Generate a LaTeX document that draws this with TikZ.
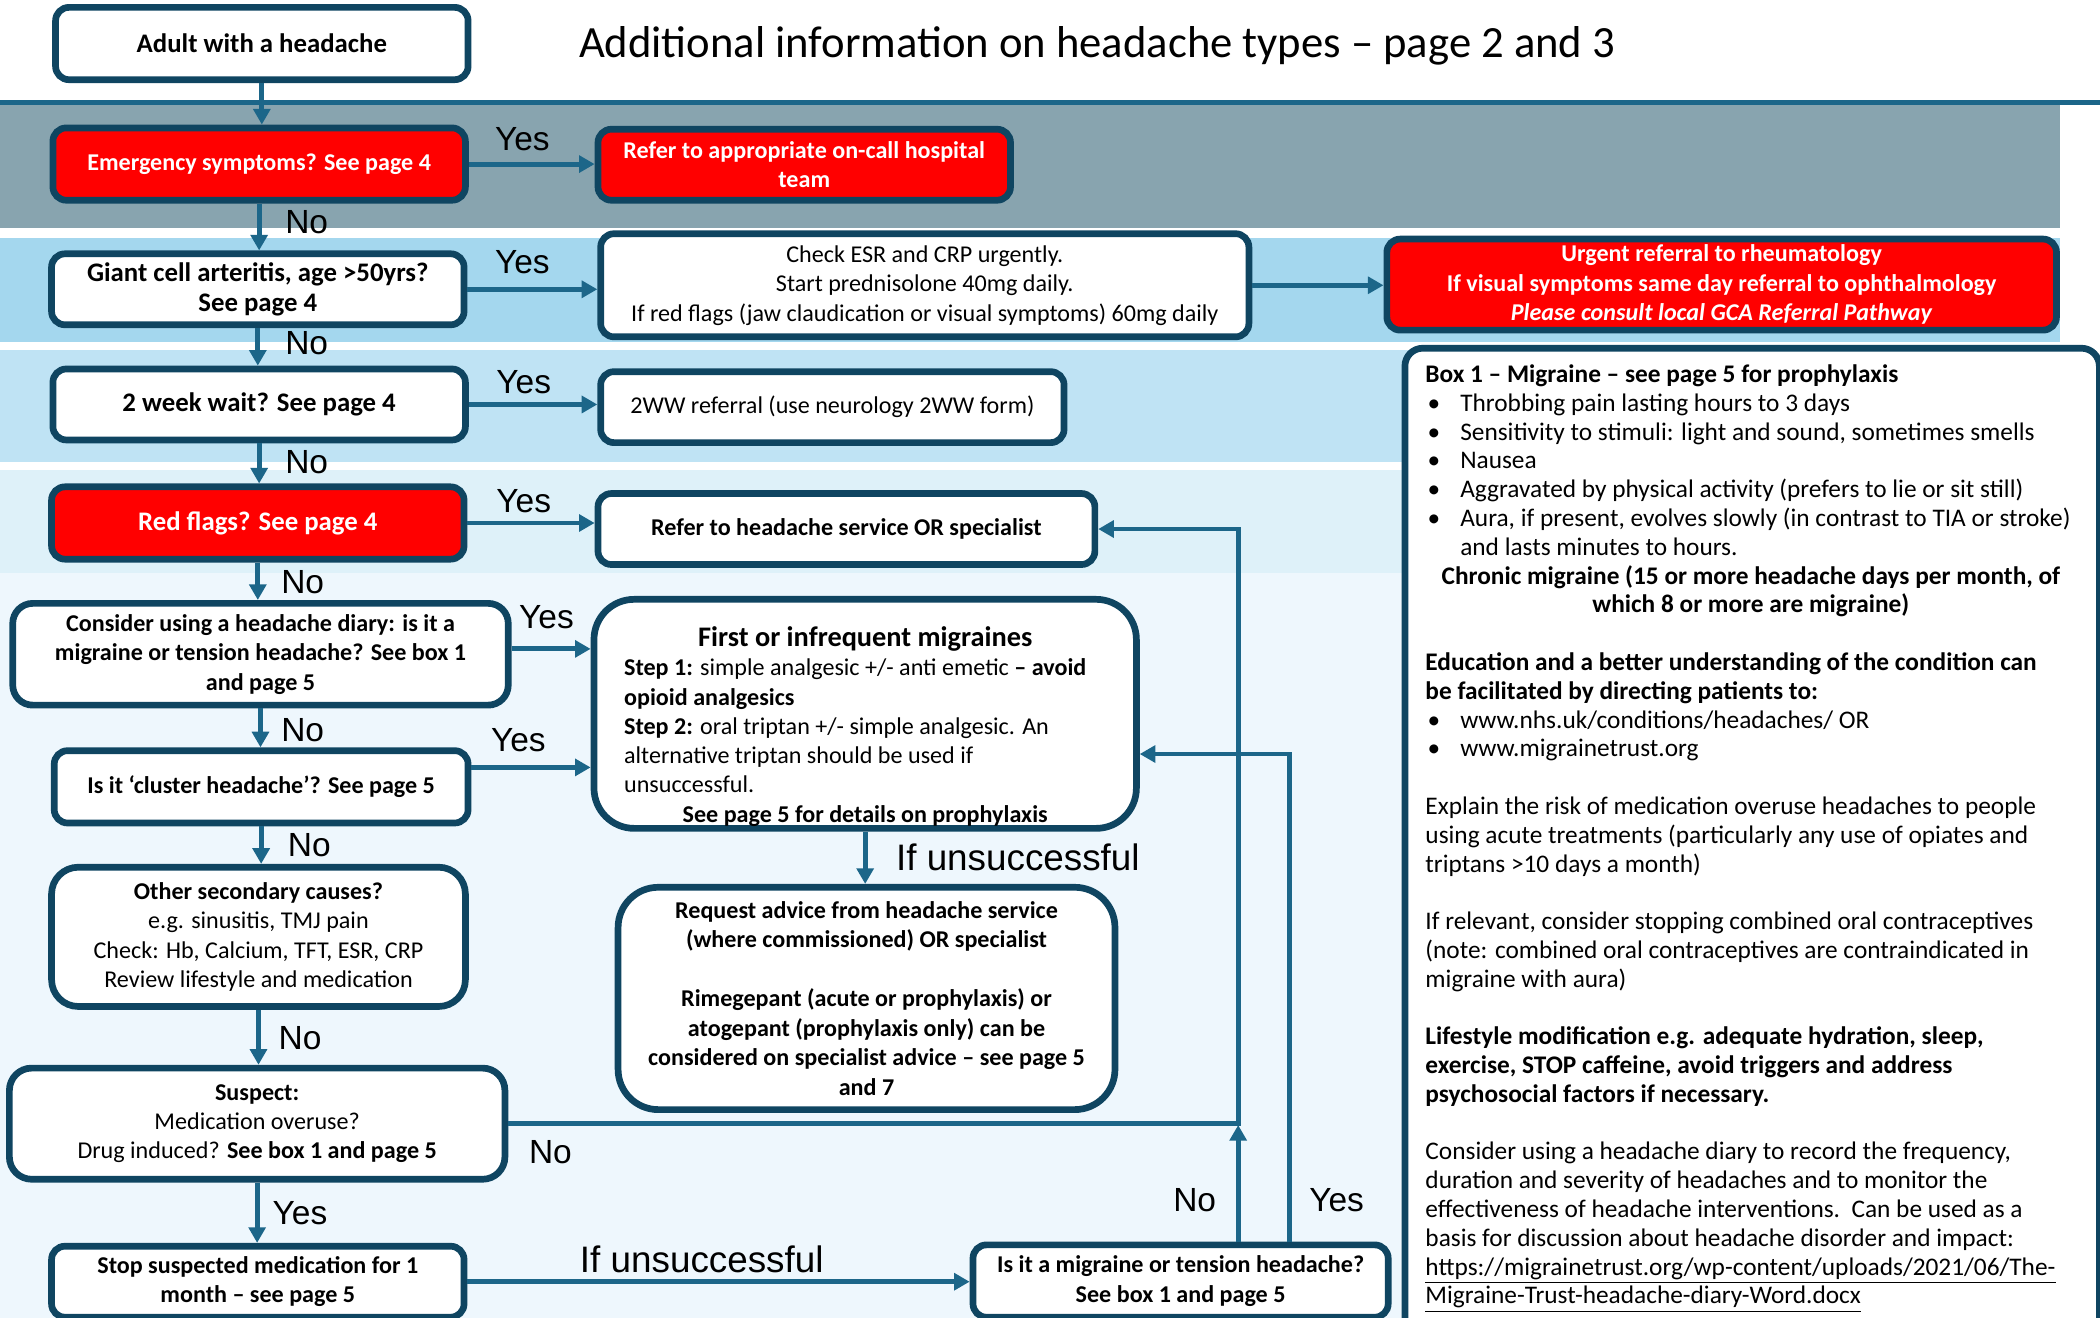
\documentclass[tikz,border=0pt]{standalone}
\usepackage{fontspec}
\setmainfont{Carlito}
\newfontfamily\lblfont{Liberation Sans}
\usetikzlibrary{arrows.meta,calc}
\definecolor{bordc}{HTML}{0F4561}
\definecolor{arrc}{HTML}{1C6689}
\definecolor{bandA}{HTML}{88A4AF}
\definecolor{bandB}{HTML}{A4D7EE}
\definecolor{bandC}{HTML}{BFE3F4}
\definecolor{bandD}{HTML}{DEF1F9}
\definecolor{bandE}{HTML}{EEF7FD}
\definecolor{redc}{HTML}{FF0000}
\newcommand\bulitem{\makebox[15.6pt][l]{\hspace{1pt}•}}
\tikzset{
  sz/.style 2 args={minimum width=#1*0.6pt, minimum height=#2*0.6pt},
  box/.style={draw=bordc, line width=3pt, fill=white, rounded corners=6pt, align=center,
    inner sep=0pt, text=black, font=\fontsize{10.8}{13.2}\selectfont},
  bbox/.style={box, font=\fontsize{10.8}{13.2}\selectfont\bfseries},
  bigb/.style={box, font=\fontsize{12}{13.8}\selectfont\bfseries},
  redbox/.style={bbox, fill=redc, text=white},
  arr/.style={draw=arrc, line width=2.2pt, -{Triangle[length=7pt,width=7.5pt]}},
  lbl/.style={inner sep=0pt, font=\lblfont\fontsize{15}{18}\selectfont},
  biglbl/.style={inner sep=0pt, font=\lblfont\fontsize{16.5}{19}\selectfont},
}
\begin{document}
\begin{tikzpicture}[x=0.6pt,y=-0.6pt]
\useasboundingbox (0,0) rectangle (1568,984);
\fill[white] (0,0) rectangle (1568,984);
% bands
\fill[bandA] (0,78) rectangle (1538,170);
\fill[bandB] (0,178) rectangle (1538,255);
\fill[bandC] (0,261) rectangle (1538,345);
\fill[bandD] (0,351) rectangle (1538,428);
\fill[bandE] (0,428) rectangle (1538,990);
\draw[arrc, line width=2.2pt] (0,76.5) -- (1568,76.5);

\node[anchor=west, inner sep=0pt, font=\fontsize{20}{24}\selectfont] (title) at (432,34)
  {Additional information on headache types – page 2 and 3};

% right panel
\node[draw=bordc, line width=3pt, fill=white, rounded corners=8pt, anchor=north west,
  minimum width=518.5*0.6pt, minimum height=760*0.6pt] (box1) at (1046.5,257.5) {};
\node[anchor=north west, inner sep=0pt, align=left, font=\fontsize{11.35}{12.9}\selectfont]
  (box1text) at (1064,272) {%
\textbf{Box 1 – Migraine – see page 5 for prophylaxis}\\
\bulitem Throbbing pain lasting hours to 3 days\\
\bulitem Sensitivity to stimuli: light and sound, sometimes smells\\
\bulitem Nausea\\
\bulitem Aggravated by physical activity (prefers to lie or sit still)\\
\bulitem Aura, if present, evolves slowly (in contrast to TIA or stroke)\\
\hspace*{15.6pt}and lasts minutes to hours.\\
\makebox[291.6pt][c]{\bfseries Chronic migraine (15 or more headache days per month, of}\\
\makebox[291.6pt][c]{\bfseries which 8 or more are migraine)}\\[12.9pt]
\textbf{Education and a better understanding of the condition can}\\
\textbf{be facilitated by directing patients to:}\\
\bulitem www.nhs.uk/conditions/headaches/ OR\\
\bulitem www.migrainetrust.org\\[12.9pt]
Explain the risk of medication overuse headaches to people\\
using acute treatments (particularly any use of opiates and\\
triptans >10 days a month)\\[12.9pt]
If relevant, consider stopping combined oral contraceptives\\
(note: combined oral contraceptives are contraindicated in\\
migraine with aura)\\[12.9pt]
\textbf{Lifestyle modification e.g. adequate hydration, sleep,}\\
\textbf{exercise, STOP caffeine, avoid triggers and address}\\
\textbf{psychosocial factors if necessary.}\\[12.9pt]
Consider using a headache diary to record the frequency,\\
duration and severity of headaches and to monitor the\\
effectiveness of headache interventions.\ \ Can be used as a\\
basis for discussion about headache disorder and impact:\\
\underline{https://migrainetrust.org/wp-content/uploads/2021/06/The-}\\
\underline{Migraine-Trust-headache-diary-Word.docx}};

% flowchart nodes
\node[bigb, sz={308}{54}] (adult) at (195.5,32.5) {Adult with a headache};
\node[redbox, sz={308}{54}] (emerg) at (193.5,122.5) {Emergency symptoms? See page 4};
\node[redbox, sz={308}{53}] (oncall) at (600.5,123) {Refer to appropriate on-call hospital\\team};
\node[bigb, sz={308}{53}] (gca) at (192.5,216) {Giant cell arteritis, age >50yrs?\\See page 4};
\node[box, sz={484}{77}] (esr) at (690.5,213) {Check ESR and CRP urgently.\\Start prednisolone 40mg daily.\\If red flags (jaw claudication or visual symptoms) 60mg daily};
\node[redbox, sz={500}{68}] (urgent) at (1285.5,212.5) {Urgent referral to rheumatology\\If visual symptoms same day referral to ophthalmology\\\textit{Please consult local GCA Referral Pathway}};
\node[bigb, sz={308}{53}] (ww) at (193.5,302) {2 week wait? See page 4};
\node[box, sz={346}{53}] (wwref) at (621.5,304) {2WW referral (use neurology 2WW form)};
\node[redbox, sz={308}{54}, font=\fontsize{12}{13.8}\selectfont\bfseries] (red) at (192.5,390.5) {Red flags? See page 4};
\node[bbox, sz={371}{53}] (refhs) at (632,395) {Refer to headache service OR specialist};
\node[bbox, sz={370}{76}, rounded corners=9pt] (consider) at (194.5,488.5) {Consider using a headache diary: is it a\\migraine or tension headache? See box 1\\and page 5};
\node[box, sz={405}{171}, rounded corners=18pt] (first) at (646,533) {};
\node[inner sep=0pt, align=left, font=\fontsize{10.8}{13.1}\selectfont] (firsttxt) at (646,542.5) {%
\makebox[216pt][c]{\fontsize{12.7}{15}\selectfont\bfseries First or infrequent migraines}\\
\textbf{Step 1:} simple analgesic +/- anti emetic \textbf{– avoid}\\
\textbf{opioid analgesics}\\
\textbf{Step 2:} oral triptan +/- simple analgesic. An\\
alternative triptan should be used if\\
unsuccessful.\\
\makebox[216pt][c]{\bfseries See page 5 for details on prophylaxis}};
\node[bbox, sz={309}{54}] (cluster) at (195,587.5) {Is it ‘cluster headache’? See page 5};
\node[box, sz={309}{104}, rounded corners=12pt] (other) at (193,699.5) {\textbf{Other secondary causes?}\\e.g. sinusitis, TMJ pain\\Check: Hb, Calcium, TFT, ESR, CRP\\Review lifestyle and medication};
\node[bbox, sz={371}{166}, rounded corners=18pt] (request) at (647,745.5) {Request advice from headache service\\(where commissioned) OR specialist\\[13.2pt]Rimegepant (acute or prophylaxis) or\\atogepant (prophylaxis only) can be\\considered on specialist advice – see page 5\\and 7};
\node[box, sz={370}{83}, rounded corners=10pt] (suspect) at (192,839) {\textbf{Suspect:}\\Medication overuse?\\Drug induced? \textbf{See box 1 and page 5}};
\node[bbox, sz={308}{53}] (stop) at (192.5,957) {Stop suspected medication for 1\\month – see page 5};
\node[bbox, sz={310}{54}] (isit) at (881.5,956.5) {Is it a migraine or tension headache?\\See box 1 and page 5};

% connectors
\draw[arr] (adult.south) -- (adult.south |- emerg.north);
\draw[arr] (emerg.east) -- (emerg.east -| oncall.west);
\draw[arr] (emerg.south) -- (emerg.south |- gca.north);
\draw[arr] (gca.east) -- (gca.east -| esr.west);
\draw[arr] (esr.east) -- (esr.east -| urgent.west);
\draw[arr] (gca.south) -- (gca.south |- ww.north);
\draw[arr] (ww.east) -- (ww.east -| wwref.west);
\draw[arr] (ww.south) -- (ww.south |- red.north);
\draw[arr] (red.east) -- (red.east -| refhs.west);
\draw[arr] (red.south) -- (red.south |- consider.north);
\draw[arr] ($(consider.east)+(0,-4)$) -- ($(consider.east -| first.west)+(0,-4)$);
\draw[arr] (consider.south) -- (consider.south |- cluster.north);
\draw[arr] ($(cluster.east)+(0,-14.5)$) -- ($(cluster.east -| first.west)+(0,-14.5)$);
\draw[arr] (cluster.south) -- (cluster.south |- other.north);
\draw[arr] (first.south) -- (first.south |- request.north);
\draw[arr] (other.south) -- (other.south |- suspect.north);
\draw[arr] (suspect.south) -- (suspect.south |- stop.north);
\draw[arr] (stop.east) -- (stop.east -| isit.west);
\coordinate (jn) at (924.5,838);
\coordinate (jnb) at (924.5,840);
\coordinate (yx) at (962.6,900);
\draw[arr] (suspect.east) -- (suspect.east -| jn) |- (refhs.east);
\draw[arr] (isit.north -| jn) -- (jnb);
\draw[arr] (isit.north -| yx) |- ($(first.east)+(0,30)$);

% labels
\node[lbl] (l1) at (390,104) {Yes};
\node[lbl] (l2) at (229,166) {No};
\node[lbl] (l3) at (390,196) {Yes};
\node[lbl] (l4) at (229,256) {No};
\node[lbl] (l5) at (391,285) {Yes};
\node[lbl] (l6) at (229,345) {No};
\node[lbl] (l7) at (391,374) {Yes};
\node[lbl] (l8) at (226,435) {No};
\node[lbl] (l9) at (408,461) {Yes};
\node[lbl] (l10) at (226,545) {No};
\node[lbl] (l11) at (387,553) {Yes};
\node[lbl] (l12) at (231,631) {No};
\node[biglbl] (l13) at (760,640) {If unsuccessful};
\node[lbl] (l14) at (224,775) {No};
\node[lbl] (l15) at (411,860) {No};
\node[lbl] (l16) at (224,906) {Yes};
\node[biglbl] (l17) at (524,940) {If unsuccessful};
\node[lbl] (l18) at (892,896) {No};
\node[lbl] (l19) at (998,896) {Yes};
\end{tikzpicture}
\end{document}
